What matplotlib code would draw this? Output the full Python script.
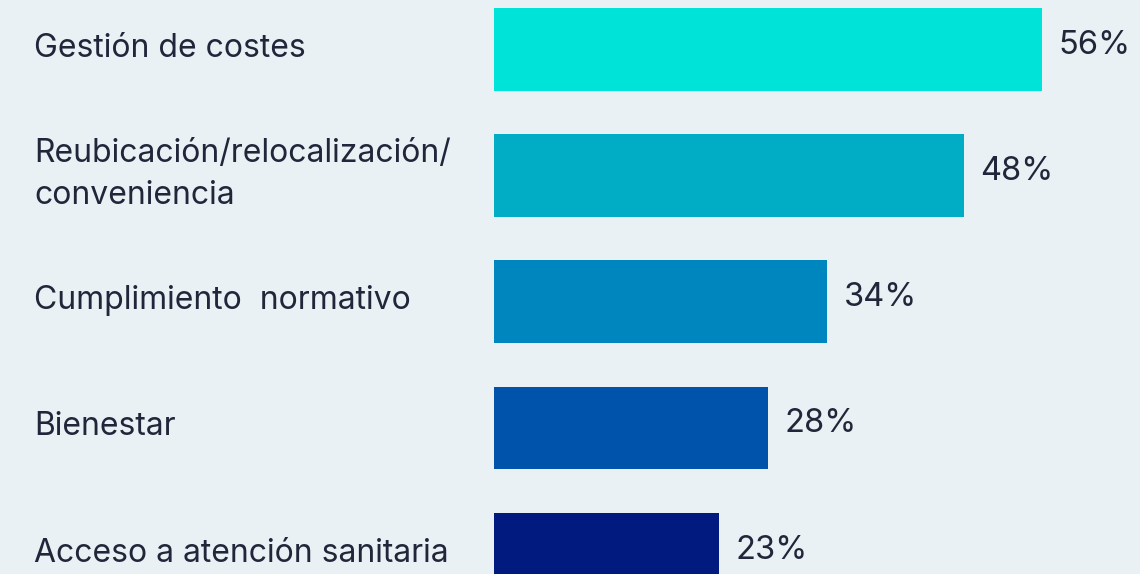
import matplotlib.pyplot as plt
import matplotlib.transforms as mtransforms
import numpy as np

# Data
categories = ["Gestión de costes",
              "Reubicación/relocalización/\nconveniencia",
              "Cumplimiento  normativo",
              "Bienestar",
              "Acceso a atención sanitaria"]
values = [56, 48, 34, 28, 23]
colors = ["#00e3d8", "#00adc4", "#0086be", "#0053aa", "#001a80"]

bg = "#e9f1f4"
txt = "#22263a"

plt.rcParams['font.family'] = ['Inter', 'DejaVu Sans']

fig = plt.figure(figsize=(11.4, 5.74), dpi=100, facecolor=bg)
# axes starts where the bars start
ax = fig.add_axes([494 / 1140, 0, 1 - 494 / 1140, 1])
ax.set_facecolor(bg)

y = np.arange(len(values))
ax.barh(y, values, height=0.655, color=colors)
ax.set_xlim(0, 66.0)
ax.set_ylim(4.156, -0.391)
ax.axis('off')

lab_tr = mtransforms.blended_transform_factory(fig.transFigure, ax.transData)
for i, (cat, v) in enumerate(zip(categories, values)):
    ax.annotate(f"{v}%", xy=(v, i), xytext=(12, 3), textcoords='offset points',
                ha='left', va='center', fontsize=23.5, color=txt)
    ax.text(34 / 1140, i - 0.01, cat, transform=lab_tr,
            fontsize=23, color=txt, ha='left', va='center', linespacing=1.45)

fig.savefig("out.png", dpi=100, facecolor=bg)
